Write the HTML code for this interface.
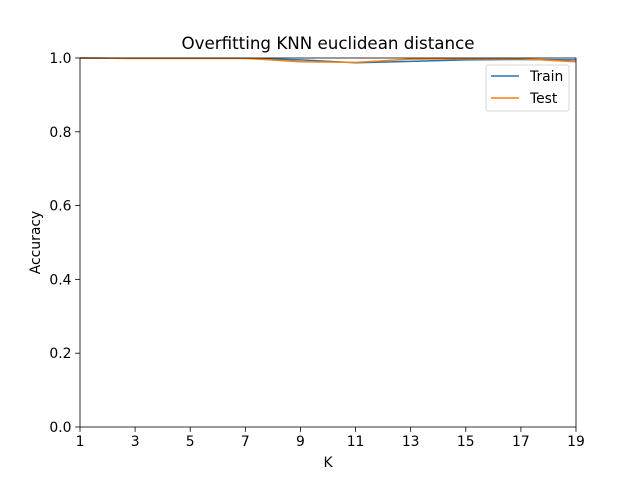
<!DOCTYPE html>
<html><head><meta charset="utf-8"><style>
body{margin:0;background:#fff}
svg{font-family:"DejaVu Sans","Liberation Sans",sans-serif}
</style></head><body>
<svg width="640" height="480" xmlns="http://www.w3.org/2000/svg">
<g id="plot"></g>
</svg>
<script>
const kValues=[1,3,5,7,9,11,13,15,17,19];
const trainAcc=[1.0,0.999,0.999,0.999,0.995,0.987,0.991,0.995,0.996,0.995];
const testAcc=[1.0,0.999,0.999,0.999,0.990,0.988,0.997,0.998,0.998,0.990];
const xTicks=[1,3,5,7,9,11,13,15,17,19];
const yTicks=[0,0.2,0.4,0.6,0.8,1.0];
const L=80,R=576,T=58,B=427;
const sx=v=>L+(v-1)/(19-1)*(R-L);
const sy=v=>B-v*(B-T);
const g=document.getElementById('plot');
const NS='http://www.w3.org/2000/svg';
function mk(tag,attrs,txt){const e=document.createElementNS(NS,tag);for(const k in attrs)e.setAttribute(k,attrs[k]);if(txt!==undefined)e.textContent=txt;g.appendChild(e);return e;}
function line(vals,color,name){
  const p=mk('polyline',{points:vals.map((v,i)=>sx(kValues[i])+','+sy(v)).join(' '),fill:'none',stroke:color,'stroke-width':1.5});
  
  
}
line(trainAcc,'#1f77b4','train-line');
line(testAcc,'#ff7f0e','test-line');
const fr=mk('rect',{x:L,y:T,width:R-L,height:B-T,fill:'none',stroke:'#000','stroke-width':0.8});


xTicks.forEach(t=>{
  mk('line',{x1:sx(t),x2:sx(t),y1:B,y2:B+4.9,stroke:'#000','stroke-width':0.8});
  const tx=mk('text',{x:sx(t),y:B+19,'font-size':13.9,'text-anchor':'middle'},String(t));
  
  
});
yTicks.forEach(t=>{
  mk('line',{x1:L-4.9,x2:L,y1:sy(t),y2:sy(t),stroke:'#000','stroke-width':0.8});
  const tx=mk('text',{x:L-8.5,y:sy(t)+5,'font-size':13.9,'text-anchor':'end'},t.toFixed(1));
  
  
});
let e=mk('text',{x:(L+R)/2,y:49,'font-size':16.7,'text-anchor':'middle'},'Overfitting KNN euclidean distance');


e=mk('text',{x:(L+R)/2,y:467,'font-size':13.9,'text-anchor':'middle'},'K');


e=mk('text',{x:40,y:(T+B)/2,'font-size':13.9,'text-anchor':'middle',transform:'rotate(-90 40 '+((T+B)/2)+')'},'Accuracy');


e=mk('rect',{x:486,y:65,width:83,height:46,rx:2,fill:'#fff','fill-opacity':0.8,stroke:'#ccc','stroke-width':0.8});


mk('line',{x1:491,x2:519,y1:76,y2:76,stroke:'#1f77b4','stroke-width':1.5});
e=mk('text',{x:530,y:81,'font-size':13.9},'Train');


mk('line',{x1:491,x2:519,y1:98,y2:98,stroke:'#ff7f0e','stroke-width':1.5});
e=mk('text',{x:530,y:103,'font-size':13.9},'Test');


</script>
</body></html>
